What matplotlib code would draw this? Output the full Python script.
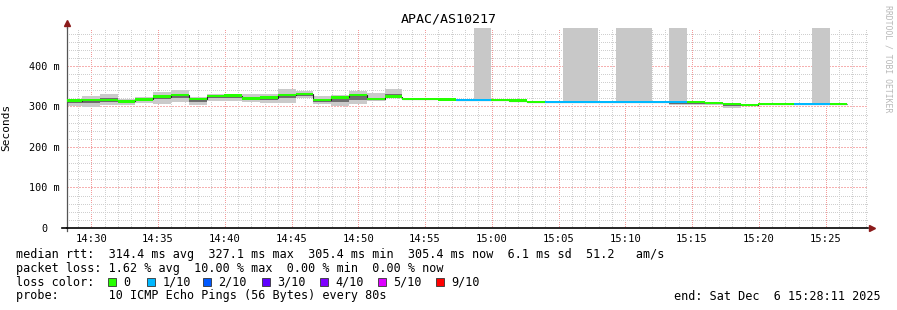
import numpy as np
import pandas as pd
import matplotlib
matplotlib.use("Agg")
import matplotlib.pyplot as plt
import matplotlib.dates as mdates
from matplotlib.patches import Rectangle

# ---------------- data ----------------
title = "APAC/AS10217"
first_step = "2025-12-06 14:27:58"
step_seconds = 80
view_start = "2025-12-06 14:28:11"
view_end = "2025-12-06 15:28:11"

median = [314, 316, 316, 313, 318, 324, 328, 318.5, 326, 326.8,
          320, 321.8, 328, 331, 316, 322.6, 328, 318.5, 324, 318.5,
          318.5, 317.5, 316, 316, 316, 314, 311, 311, 311, 311,
          311, 311, 311, 311, 311, 311, 308.6, 306, 304, 306,
          306, 306, 306, 306]
smoke_lo = [302, 299.5, 304, 304, 308, 305, 312, 303.7, 314, 314,
            312, 309, 309, 320, 306, 302, 306, 314, 320, 318.5,
            318.5, 317.5, 316, 316, 316, 314, 311, 311, 311, 311,
            311, 308, 308, 308, 303, 303, 303, 296, 304, 306,
            306, 306, 306, 306]
smoke_hi = [318.5, 326.7, 331, 318, 322.6, 336, 340.7, 322.6, 331, 331,
            332, 331, 342, 339, 326.7, 328, 338, 332.6, 343, 318.5,
            318.5, 317.5, 316, 316, 316, 314, 311, 311, 311, 311,
            311, 311, 311, 311, 311, 311, 308.6, 306, 304, 306,
            306, 306, 306, 306]
core_lo = [309, 308, 310, 310, 313, 318, 322, 312, 320, 320,
           316, 316, 320, 325, 310, 310, 316, 316, 322, 318.5,
           318.5, 317.5, 316, 316, 316, 314, 311, 311, 311, 311,
           311, 311, 311, 311, 306, 306, 305, 302, 304, 306,
           306, 306, 306, 306]
core_hi = [316, 318, 320, 316, 320, 327, 331, 320, 328, 328,
           324, 325, 331, 334, 318, 324, 330, 322, 330, 318.5,
           318.5, 317.5, 316, 316, 316, 314, 311, 311, 311, 311,
           311, 311, 311, 311, 311, 311, 308.6, 306, 304, 306,
           306, 306, 306, 306]
loss = [0, 0, 0, 0, 0, 0, 0, 0, 0, 0,
        0, 0, 0, 0, 0, 0, 0, 0, 0, 0,
        0, 0, 1, 1, 0, 0, 0, 1, 1, 1,
        1, 1, 1, 1, 1, 0, 0, 0, 0, 0,
        0, 1, 1, 0]
lost_smoke_to_top = [0, 0, 0, 0, 0, 0, 0, 0, 0, 0,
                     0, 0, 0, 0, 0, 0, 0, 0, 0, 0,
                     0, 0, 0, 1, 0, 0, 0, 0, 1, 1,
                     0, 1, 1, 0, 1, 0, 0, 0, 0, 0,
                     0, 0, 1, 0]

loss_levels = [0, 1, 2, 3, 4, 5, 9]
loss_labels = ["0", "1/10", "2/10", "3/10", "4/10", "5/10", "9/10"]
loss_colors = ["#26ff00", "#00b8ff", "#0059ff", "#5e00ff", "#7e00ff", "#dd00ff", "#ff0000"]

y_ticks = [0, 100, 200, 300, 400]
y_tick_labels = ["0  ", "100 m", "200 m", "300 m", "400 m"]
y_top = 495

legend_lines = [
    "median rtt:  314.4 ms avg  327.1 ms max  305.4 ms min  305.4 ms now  6.1 ms sd  51.2   am/s",
    "packet loss: 1.62 % avg  10.00 % max  0.00 % min  0.00 % now",
    "loss color:",
    "probe:       10 ICMP Echo Pings (56 Bytes) every 80s",
]
end_text = "end: Sat Dec  6 15:28:11 2025"
watermark = "RRDTOOL / TOBI OETIKER"

# ---------------- figure ----------------
MONO = "DejaVu Sans Mono"
plt.rcParams["font.family"] = MONO

W, H = 897, 310
fig = plt.figure(figsize=(W / 100, H / 100), dpi=100)
fig.patch.set_facecolor("white")
ax = fig.add_axes([67 / W, (H - 228) / H, 801 / W, (228 - 27.5) / H])
ax.set_facecolor("white")

times = pd.date_range(first_step, periods=len(median), freq=f"{step_seconds}s")
xs = mdates.date2num(times.to_pydatetime())
width = step_seconds / 86400.0

med = np.array(median, float)
lo = np.array(smoke_lo, float)
hi = np.array(smoke_hi, float)
clo = np.array(core_lo, float)
chi = np.array(core_hi, float)
top = np.array(lost_smoke_to_top, bool)

# smoke (outer)
ax.bar(xs, hi - lo, bottom=lo, width=width, align="edge", color="#cacaca",
       linewidth=0, zorder=2)
# lost pings -> smoke to infinity
base_top = np.minimum(med[top], hi[top])
ax.bar(xs[top], y_top - base_top, bottom=base_top,
       width=width, align="edge", color="#c8c8c8", linewidth=0, zorder=2)
# smoke (inner)
ax.bar(xs, chi - clo, bottom=clo, width=width, align="edge", color="#6e6e6e",
       linewidth=0, zorder=2.5)

# dark median line
ax.stairs(med, np.append(xs, xs[-1] + width), color="#202020", linewidth=0.8,
          baseline=None, zorder=3)
# colored median band by loss
lvl_color = {lv: c for lv, c in zip(loss_levels, loss_colors)}
band = 3.3
cols = [lvl_color[l] for l in loss]
ax.bar(xs, 2 * band, bottom=med - band, width=width, align="edge", color=cols,
       linewidth=0, zorder=4)

# axes ranges
ax.set_xlim(mdates.date2num(pd.Timestamp(view_start)), mdates.date2num(pd.Timestamp(view_end)))
ax.set_ylim(0, y_top)

ax.xaxis.set_major_locator(mdates.MinuteLocator(byminute=range(0, 60, 5)))
ax.xaxis.set_minor_locator(mdates.MinuteLocator(byminute=[m for m in range(60) if m % 5]))
ax.xaxis.set_major_formatter(mdates.DateFormatter("%H:%M"))
ax.set_yticks(y_ticks)
ax.set_yticklabels(y_tick_labels)
ax.set_yticks([v for v in range(0, y_top, 20) if v % 100], minor=True)

ax.set_axisbelow(True)
ax.grid(which="minor", color="#cfcfcf", linestyle=(0, (1, 2)), linewidth=0.72,
        antialiased=False)
ax.xaxis.grid(which="major", color="#f29a9a", linestyle=(0, (1, 2)), linewidth=0.72,
              antialiased=False)
ax.yaxis.grid(which="major", color="#f6b0b0", linestyle=(0, (1, 1.5)), linewidth=0.8,
              antialiased=False)

ax.tick_params(which="both", length=0)
ax.tick_params(axis="x", labelsize=7.6, pad=4.5, colors="black")
ax.tick_params(axis="y", labelsize=7.3, pad=5, colors="black")

for s in ("top", "right"):
    ax.spines[s].set_visible(False)
ax.spines["left"].set_color("#555555")
ax.spines["left"].set_linewidth(0.9)
ax.spines["bottom"].set_color("black")
ax.spines["bottom"].set_linewidth(1.2)
# axis extensions and arrows
ax.plot([-5 / 801, 0], [0, 0], transform=ax.transAxes, color="black", lw=1.2, clip_on=False)
ax.plot([0, 0], [-3 / 200.5, 0], transform=ax.transAxes, color="#555555", lw=0.9, clip_on=False)
ax.plot([0, 0], [1, 1 + 3 / 200.5], transform=ax.transAxes, color="#555555", lw=0.9, clip_on=False)
ax.plot([0], [1 + 4 / 200.5], marker="^", markersize=4.5, color="#8b1a1a",
        transform=ax.transAxes, clip_on=False, zorder=6)
ax.plot([1 + 4 / 801], [0], marker=">", markersize=4.5, color="#8b1a1a",
        transform=ax.transAxes, clip_on=False, zorder=6)

ax.set_ylabel("Seconds", fontsize=8, family=MONO)
ax.yaxis.set_label_coords((11 - 67) / 801, (228 - 127) / 200.5)

# title
fig.text(0.5, 1 - 19 / H, title, ha="center", va="center", fontsize=9.6, family=MONO)

# watermark
fig.text(888 / W, 1 - 5 / H, watermark, rotation=270, ha="center", va="top",
         fontsize=5.9, color="#b8b8b8", family=MONO)

# legend text
line_y = [254.5, 268.5, 282, 296]
FS = 8.5
for txt, yy in zip(legend_lines, line_y):
    fig.text(16 / W, 1 - yy / H, txt, ha="left", va="center", fontsize=FS, family=MONO)

box_x = [108, 146.7, 203, 261.7, 320, 378, 436]
for bx, lab, c in zip(box_x, loss_labels, loss_colors):
    fig.patches.append(Rectangle((bx / W, 1 - 286 / H), 8 / W, 8 / H, transform=fig.transFigure,
                                 facecolor=c, edgecolor="#333333", linewidth=0.6))
    fig.text((bx + 15.5) / W, 1 - 282 / H, lab, ha="left", va="center", fontsize=FS, family=MONO)

fig.text(881 / W, 1 - 296 / H, end_text, ha="right", va="center", fontsize=FS, family=MONO)

fig.savefig("out.png", dpi=100, facecolor="white")
